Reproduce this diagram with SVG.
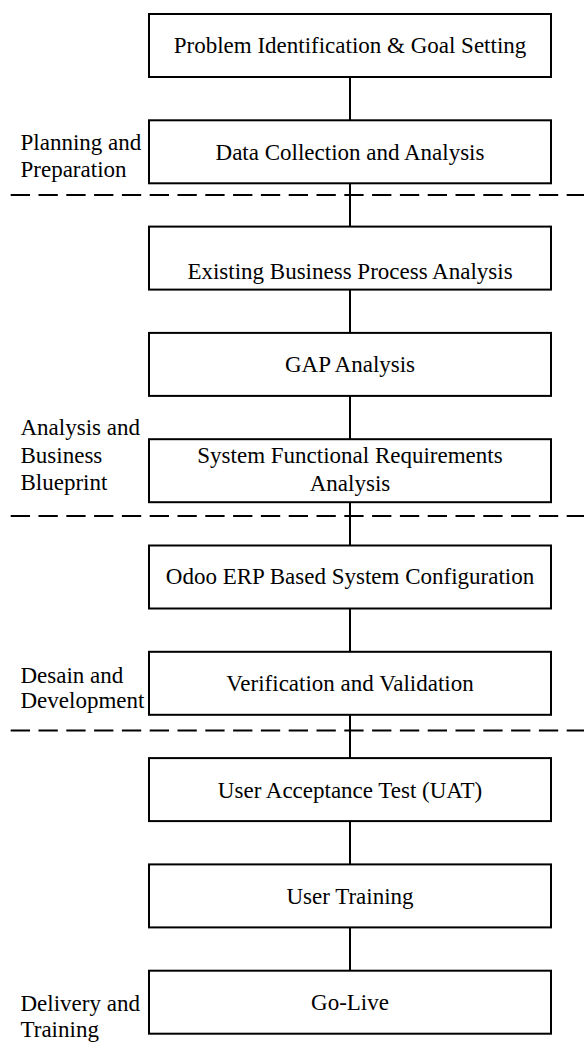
<svg xmlns="http://www.w3.org/2000/svg" width="584" height="1043" viewBox="0 0 584 1043">
<style>
.box{fill:#fff;stroke:#000;stroke-width:2}
.t{font-family:"Liberation Serif","Times New Roman",serif;font-size:23px;fill:#000}
.c{text-anchor:middle}
.conn{stroke:#000;stroke-width:2;fill:none}
.dash{stroke:#000;stroke-width:2;stroke-dasharray:19.3 8.5;fill:none}
</style>
<rect width="584" height="1043" fill="#fff"/>
<g id="connectors">
<line class="conn" x1="350" y1="77" x2="350" y2="120.3"/>
<line class="conn" x1="350" y1="183.3" x2="350" y2="226.6"/>
<line class="conn" x1="350" y1="289.6" x2="350" y2="332.9"/>
<line class="conn" x1="350" y1="395.9" x2="350" y2="439.2"/>
<line class="conn" x1="350" y1="502.2" x2="350" y2="545.5"/>
<line class="conn" x1="350" y1="608.5" x2="350" y2="651.8"/>
<line class="conn" x1="350" y1="714.8" x2="350" y2="758.1"/>
<line class="conn" x1="350" y1="821.1" x2="350" y2="864.4"/>
<line class="conn" x1="350" y1="927.4" x2="350" y2="970.7"/>
</g>
<g id="dividers">
<line class="dash" x1="10.7" y1="195" x2="584" y2="195"/>
<line class="dash" x1="10.7" y1="516" x2="584" y2="516"/>
<line class="dash" x1="10.7" y1="730.5" x2="584" y2="730.5"/>
</g>
<g id="n1"><rect class="box" x="149" y="14" width="402" height="63"/><text class="t c" x="350" y="53">Problem Identification &amp; Goal Setting</text></g>
<g id="n2"><rect class="box" x="149" y="120.3" width="402" height="63"/><text class="t c" x="350" y="160">Data Collection and Analysis</text></g>
<g id="n3"><rect class="box" x="149" y="226.6" width="402" height="63"/><text class="t c" x="350" y="279">Existing Business Process Analysis</text></g>
<g id="n4"><rect class="box" x="149" y="332.9" width="402" height="63"/><text class="t c" x="350" y="371.7">GAP Analysis</text></g>
<g id="n5"><rect class="box" x="149" y="439.2" width="402" height="63"/><text class="t c" x="350" y="463.3">System Functional Requirements</text><text class="t c" x="350" y="491">Analysis</text></g>
<g id="n6"><rect class="box" x="149" y="545.5" width="402" height="63"/><text class="t c" x="350" y="584">Odoo ERP Based System Configuration</text></g>
<g id="n7"><rect class="box" x="149" y="651.8" width="402" height="63"/><text class="t c" x="350" y="690.7">Verification and Validation</text></g>
<g id="n8"><rect class="box" x="149" y="758.1" width="402" height="63"/><text class="t c" x="350" y="798">User Acceptance Test (UAT)</text></g>
<g id="n9"><rect class="box" x="149" y="864.4" width="402" height="63"/><text class="t c" x="350" y="904">User Training</text></g>
<g id="n10"><rect class="box" x="149" y="970.7" width="402" height="63"/><text class="t c" x="350" y="1010">Go-Live</text></g>
<g id="phase-labels">
<text class="t" x="20.5" y="150">Planning and</text>
<text class="t" x="20.5" y="176.7">Preparation</text>
<text class="t" x="20.5" y="435">Analysis and</text>
<text class="t" x="20.5" y="463.3">Business</text>
<text class="t" x="20.5" y="490">Blueprint</text>
<text class="t" x="20.5" y="682.7">Desain and</text>
<text class="t" x="20.5" y="708.3">Development</text>
<text class="t" x="20.5" y="1011">Delivery and</text>
<text class="t" x="20.5" y="1036.7">Training</text>
</g>
</svg>
